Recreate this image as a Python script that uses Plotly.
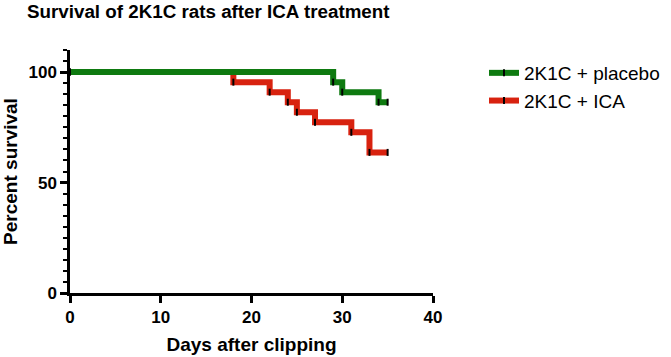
import plotly.graph_objects as go

# Data (Kaplan-Meier steps)
placebo_days = [0, 29, 30, 34, 35]
placebo_surv = [100, 95.45, 90.91, 86.36, 86.36]
ica_days = [0, 18, 22, 24, 25, 27, 31, 33, 35]
ica_surv = [100, 95.45, 90.91, 86.36, 81.82, 77.27, 72.73, 63.64, 63.64]

x_ticks = [0, 10, 20, 30, 40]
y_ticks = [0, 50, 100]

GREEN = "#0e7a10"
RED = "#d8220f"
FONT = "Liberation Sans, Arial, sans-serif"

fig = go.Figure()

def km_trace(x, y, name, color, group):
    return go.Scatter(
        x=x, y=y, name=name, mode="lines+markers",
        line=dict(color=color, width=6, shape="hv"),
        marker=dict(symbol="line-ns", size=5, color="black",
                    line=dict(color="black", width=2)),
        legendgroup=group, cliponaxis=False,
    )

# red first so the green line sits on top where they overlap
fig.add_trace(km_trace(ica_days, ica_surv, "2K1C + ICA", RED, "b"))
fig.add_trace(km_trace(placebo_days, placebo_surv, "2K1C + placebo", GREEN, "a"))

fig.update_layout(
    width=671, height=357,
    margin=dict(l=70, r=238, t=50, b=64),
    paper_bgcolor="white", plot_bgcolor="white",
    font=dict(family=FONT, color="black"),
    title=dict(text="Survival of 2K1C rats after ICA treatment",
               x=27/671, xanchor="left", xref="container",
               y=1-11/357, yanchor="middle", yref="container",
               font=dict(size=18.8, weight="bold", color="black")),
    legend=dict(x=484/671, xref="container", y=1-54/357, yref="container",
                xanchor="left", yanchor="top",
                font=dict(size=19, color="black"), tracegroupgap=12,
                traceorder="reversed", bgcolor="rgba(0,0,0,0)"),
    showlegend=True,
)

fig.update_xaxes(
    range=[0, 40], tickvals=x_ticks, ticktext=[str(v) for v in x_ticks],
    showline=True, linecolor="black", linewidth=2.5,
    ticks="outside", ticklen=7, tickwidth=2.5, tickcolor="black",
    showgrid=False, zeroline=False, automargin=False,
    tickfont=dict(size=17, weight="bold"),
    title=dict(text="Days after clipping", font=dict(size=19, weight="bold"), standoff=12),
)
fig.update_yaxes(
    range=[0, 110], tickvals=y_ticks, ticktext=[str(v) for v in y_ticks],
    showline=True, linecolor="black", linewidth=2.5,
    ticks="outside", ticklen=7, tickwidth=2.5, tickcolor="black",
    minor=dict(dtick=5, tick0=0, ticks="outside", ticklen=4, tickwidth=2, tickcolor="black"),
    showgrid=False, zeroline=False, automargin=False,
    tickfont=dict(size=17, weight="bold"),
    title=dict(text="Percent survival", font=dict(size=19, weight="bold"), standoff=10),
)

fig.write_html("out.html", config={"displayModeBar": False},
               post_script="document.body.style.margin='0';")
